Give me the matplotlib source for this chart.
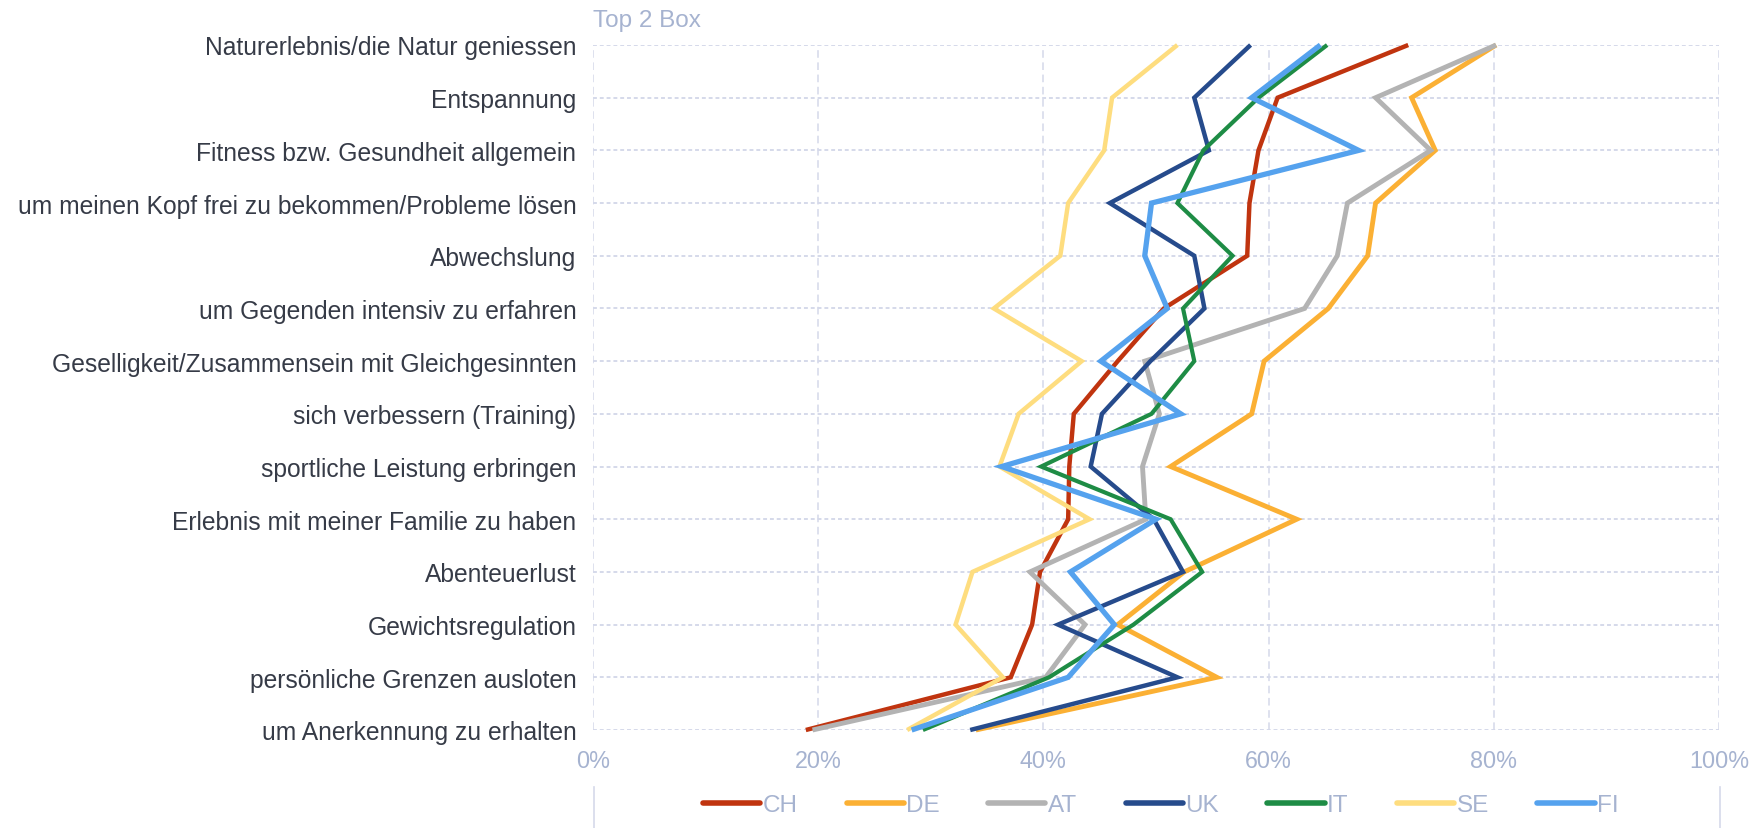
import matplotlib
matplotlib.use("Agg")
import matplotlib.pyplot as plt
from matplotlib.lines import Line2D

categories = [
    "Naturerlebnis/die Natur geniessen",
    "Entspannung",
    "Fitness bzw. Gesundheit allgemein",
    "um meinen Kopf frei zu bekommen/Probleme lösen",
    "Abwechslung",
    "um Gegenden intensiv zu erfahren",
    "Geselligkeit/Zusammensein mit Gleichgesinnten",
    "sich verbessern (Training)",
    "sportliche Leistung erbringen",
    "Erlebnis mit meiner Familie zu haben",
    "Abenteuerlust",
    "Gewichtsregulation",
    "persönliche Grenzen ausloten",
    "um Anerkennung zu erhalten",
]

CH = [72.4, 60.8, 59.1, 58.3, 58.1, 50.7, 46.6, 42.7, 42.3, 42.2, 39.7, 39.0, 37.1, 18.9]
DE = [80.2, 72.7, 74.8, 69.5, 68.8, 65.3, 59.6, 58.5, 51.3, 62.5, 52.5, 46.6, 55.4, 34.0]
AT = [80.2, 69.5, 74.4, 67.0, 66.1, 63.2, 49.0, 50.3, 48.8, 49.1, 38.8, 43.7, 40.2, 19.5]
UK = [58.4, 53.4, 54.7, 45.9, 53.4, 54.3, 49.5, 45.2, 44.2, 49.8, 52.4, 41.3, 51.9, 33.5]
IT = [65.2, 59.1, 54.2, 51.9, 56.8, 52.4, 53.4, 49.6, 39.8, 51.3, 54.1, 48.0, 40.5, 29.3]
SE = [51.9, 46.1, 45.4, 42.2, 41.5, 35.6, 43.4, 37.8, 36.1, 44.1, 33.7, 32.2, 36.4, 27.9]
FI = [64.6, 58.5, 68.0, 49.6, 49.0, 51.0, 45.1, 52.2, 36.3, 50.0, 42.4, 46.3, 42.2, 28.3]

series_names = ["CH", "DE", "AT", "UK", "IT", "SE", "FI"]
series_values = [CH, DE, AT, UK, IT, SE, FI]
colors = ["#C0340F", "#FBB034", "#B3B3B3", "#264B8C", "#1E8C45", "#FEDD7F", "#55A2EE"]
widths = [3.2, 3.5, 3.5, 3.2, 3.0, 3.2, 3.8]

xticks = [0, 20, 40, 60, 80, 100]
xticklabels = ["0%", "20%", "40%", "60%", "80%", "100%"]

plt.rcParams['font.family'] = ['Liberation Sans', 'DejaVu Sans']

W, H = 1758, 829
fig = plt.figure(figsize=(W / 100, H / 100), dpi=100)
ax = fig.add_axes([593 / W, 1 - 731 / H, (1719 - 593) / W, (731 - 46) / H])

ypos = list(range(len(categories)))
for name, vals, c, lw in zip(series_names, series_values, colors, widths):
    ax.plot(vals, ypos, color=c, lw=lw, label=name, solid_joinstyle='miter',
            solid_capstyle='butt', clip_on=False, zorder=3)

ax.set_xlim(0, 100)
ax.set_ylim(len(categories) - 1, 0)
ax.set_yticks(ypos)
ax.set_yticklabels(categories, fontsize=17.7, color="#363B47")
ax.set_xticks(xticks)
ax.set_xticklabels(xticklabels, fontsize=16.8, color="#A6B3D0")
ax.tick_params(axis='y', length=0, pad=12)
ax.tick_params(axis='x', length=0, pad=14)
for s in ax.spines.values():
    s.set_visible(False)

for x in xticks:
    ax.axvline(x, color="#D5D9EA", lw=1.1, ls=(0, (5, 3)), zorder=1)
for y in ypos:
    ax.axhline(y, color="#D5D9EA", lw=1.4, ls=(0, (2, 1.5)), zorder=1)

fig.text(593 / W, 1 - 21 / H, "Top 2 Box", fontsize=17.5, color="#A6B3D0",
         ha='left', va='center')

handles = [Line2D([], [], color=c, lw=4.0, solid_capstyle='round') for c in colors]
fig.legend(handles, series_names, loc='center', ncol=7,
           bbox_to_anchor=(1161 / W, 1 - 806 / H), frameon=False,
           fontsize=17.5, labelcolor="#A6B3D0", handlelength=2.35,
           handletextpad=0.1, columnspacing=2.0)

for x in (594, 1720):
    fig.add_artist(Line2D([x / W, x / W], [0, 1 - 788 / H], color="#D5D9EA", lw=1.2))

fig.savefig("out.png", dpi=100)
